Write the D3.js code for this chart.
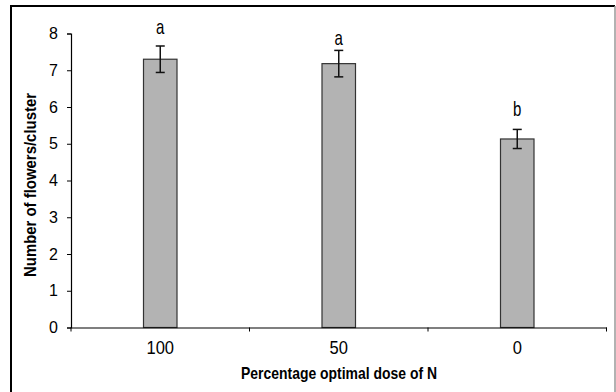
<!DOCTYPE html>
<html>
<head>
<meta charset="utf-8">
<script src="https://cdn.jsdelivr.net/npm/d3@7"></script>
<style>
  body { margin: 0; background: #fff; }
  svg text { font-family: "Liberation Sans", Arial, sans-serif; }
</style>
</head>
<body>
<div id="chart"></div>
<script>
const doses = ["100", "50", "0"];
const flowers = [7.3, 7.18, 5.13];
const errors = [0.36, 0.36, 0.26];
const letters = ["a", "a", "b"];
const letterAt = [7.98, 7.7, 5.75];
const yTicks = [0, 1, 2, 3, 4, 5, 6, 7, 8];

const width = 616;
const height = 392;

const svg = d3
  .select("#chart")
  .append("svg")
  .attr("width", width)
  .attr("height", height);

// outer frame
svg.append("line").attr("x1", 11).attr("x2", 11).attr("y1", 5).attr("y2", height)
  .attr("stroke", "#000").attr("stroke-width", 2);
svg.append("line").attr("x1", 10).attr("x2", 615).attr("y1", 6).attr("y2", 6)
  .attr("stroke", "#000").attr("stroke-width", 2);
svg.append("line").attr("x1", 615).attr("x2", 615).attr("y1", 6).attr("y2", height)
  .attr("stroke", "#999").attr("stroke-width", 1.5);

const x = d3.scaleBand().domain(doses).range([71, 606.5]).padding(0);
const y = d3.scaleLinear().domain([0, 8]).range([327.5, 33.5]);
const barW = 33.5;

// y axis
const yAxis = svg.append("g")
  .attr("transform", "translate(71,0)")
  .call(d3.axisLeft(y).tickValues(yTicks).tickSize(4).tickPadding(9).tickFormat(d3.format("d")));
yAxis.select(".domain").attr("stroke", "#000").attr("stroke-width", 1.2);
yAxis.selectAll(".tick line").attr("stroke", "#000");
yAxis.selectAll("text").attr("font-size", 16).attr("fill", "#000")
  .attr("font-family", "Liberation Sans, Arial, sans-serif");

// bars
svg.selectAll(".bar")
  .data(flowers)
  .enter()
  .append("rect")
  .attr("class", "bar")
  .attr("x", (d, i) => x(doses[i]) + x.bandwidth() / 2 - barW / 2)
  .attr("width", barW)
  .attr("y", d => y(d))
  .attr("height", d => y(0) - y(d))
  .attr("fill", "#b3b3b3")
  .attr("stroke", "#333")
  .attr("stroke-width", 1.2);

// x axis
const xAxis = svg.append("g")
  .attr("transform", `translate(0,${y(0)})`)
  .call(d3.axisBottom(x).tickSize(0).tickPadding(14));
xAxis.select(".domain").attr("stroke", "#000").attr("stroke-width", 1.2);
xAxis.selectAll("text").attr("font-size", 18).attr("fill", "#000")
  .attr("font-family", "Liberation Sans, Arial, sans-serif")
  .attr("transform", "scale(0.92,1)");

const edges = doses.map(d => x(d)).concat([x.range()[1]]);
svg.selectAll(".xtick")
  .data(edges)
  .enter()
  .append("line")
  .attr("x1", d => d).attr("x2", d => d)
  .attr("y1", y(0)).attr("y2", y(0) + 4)
  .attr("stroke", "#000");

// error bars
const cx = i => x(doses[i]) + x.bandwidth() / 2;
const err = svg.selectAll(".err").data(flowers).enter().append("g").attr("stroke", "#111").attr("stroke-width", 1.5);
err.append("line")
  .attr("x1", (d, i) => cx(i)).attr("x2", (d, i) => cx(i))
  .attr("y1", (d, i) => y(d + errors[i])).attr("y2", (d, i) => y(d - errors[i]));
err.append("line")
  .attr("x1", (d, i) => cx(i) - 4.5).attr("x2", (d, i) => cx(i) + 4.5)
  .attr("y1", (d, i) => y(d + errors[i])).attr("y2", (d, i) => y(d + errors[i]));
err.append("line")
  .attr("x1", (d, i) => cx(i) - 4.5).attr("x2", (d, i) => cx(i) + 4.5)
  .attr("y1", (d, i) => y(d - errors[i])).attr("y2", (d, i) => y(d - errors[i]));

// significance letters
svg.selectAll(".letter")
  .data(letters)
  .enter()
  .append("text")
  .attr("transform", (d, i) => `translate(${cx(i)},${y(letterAt[i])}) scale(0.75,1)`)
  .attr("text-anchor", "middle")
  .attr("font-size", 20)
  .text(d => d);

// axis titles
svg.append("text")
  .attr("x", 339)
  .attr("y", 379)
  .attr("text-anchor", "middle")
  .attr("font-size", 16.5)
  .attr("font-weight", "bold")
  .attr("textLength", 196)
  .attr("lengthAdjust", "spacingAndGlyphs")
  .text("Percentage optimal dose of N");

svg.append("text")
  .attr("transform", "translate(36,185) rotate(-90)")
  .attr("text-anchor", "middle")
  .attr("font-size", 16)
  .attr("font-weight", "bold")
  .attr("textLength", 184)
  .attr("lengthAdjust", "spacingAndGlyphs")
  .text("Number of flowers/cluster");
</script>
</body>
</html>
